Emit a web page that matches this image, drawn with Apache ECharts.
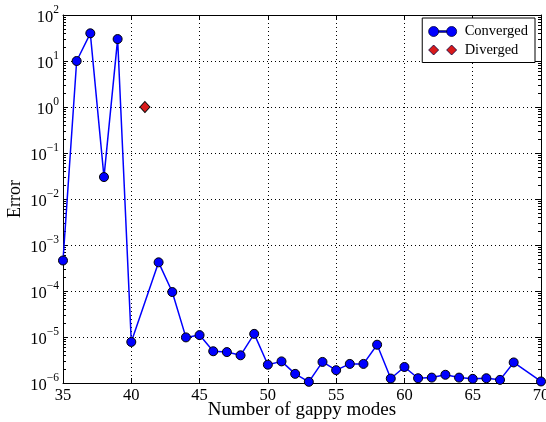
<!DOCTYPE html>
<html>
<head>
<meta charset="utf-8">
<script src="https://cdn.jsdelivr.net/npm/echarts@6/dist/echarts.min.js"></script>
<style>
  html, body { margin: 0; padding: 0; background: #fff; overflow: hidden; }
  #chart { width: 546px; height: 422px; }
</style>
</head>
<body>
<div id="chart"></div>
<script>
// Converged runs: number of gappy modes and the resulting error
const convergedModes = [35, 36, 37, 38, 39, 40, 42, 43, 44, 45, 46, 47, 48, 49, 50, 51, 52, 53, 54, 55,
                        56, 57, 58, 59, 60, 61, 62, 63, 64, 65, 66, 67, 68, 70];
const convergedError = [4.6e-4, 10, 40, 0.03, 30, 7.8e-6, 4.2e-4, 9.5e-5, 9.8e-6, 1.1e-5,
                        4.9e-6, 4.7e-6, 4.0e-6, 1.17e-5, 2.5e-6, 2.95e-6, 1.58e-6, 1.06e-6, 2.87e-6, 1.9e-6,
                        2.6e-6, 2.6e-6, 6.8e-6, 1.25e-6, 2.23e-6, 1.27e-6, 1.31e-6, 1.51e-6, 1.31e-6, 1.23e-6,
                        1.27e-6, 1.17e-6, 2.8e-6, 1.08e-6];
// Diverged runs
const divergedModes = [41];
const divergedError = [1.0];

// Axis ranges
const xMin = 35, xMax = 70, xStep = 5;
const yMin = 1e-6, yMax = 1e2;

const serif = 'Liberation Serif';

function pairs(xs, ys) { return xs.map((x, i) => [x, ys[i]]); }

function powLabel(v) {
  const e = Math.round(Math.log10(v));
  const exp = e < 0 ? '\u2212' + (-e) : String(e);
  return '{b|10}{s|' + exp + '}';
}

const dotted = { color: '#000', width: 1, type: [1, 3] };

const chart = echarts.init(document.getElementById('chart'), null, { renderer: 'canvas' });

chart.setOption({
  animation: false,
  backgroundColor: '#fff',
  textStyle: { fontFamily: serif, color: '#000' },
  grid: { left: 63, right: 5, top: 15, bottom: 39, containLabel: false, outerBoundsMode: 'none' },
  legend: {
    orient: 'vertical',
    right: 11,
    top: 18,
    padding: [6, 7, 5, 6],
    borderColor: '#000',
    borderWidth: 1,
    backgroundColor: '#fff',
    itemWidth: 28,
    itemHeight: 10,
    itemGap: 3.5,
    itemStyle: { borderWidth: 0.8, borderColor: '#000040', opacity: 1 },
    textStyle: { fontFamily: serif, fontSize: 14.5, color: '#000', padding: [0, 0, 0, 3] },
    data: [
      {
        name: 'Converged',
        icon: 'path://M0,5a5,5 0 1,0 10,0a5,5 0 1,0 -10,0Z M18,5a5,5 0 1,0 10,0a5,5 0 1,0 -10,0Z M10,4.2L18,4.2L18,5.8L10,5.8Z'
      },
      {
        name: 'Diverged',
        icon: 'path://M5,0L10,5L5,10L0,5Z M23,0L28,5L23,10L18,5Z'
      }
    ]
  },
  xAxis: [
    {
      type: 'value', min: xMin, max: xMax, interval: xStep,
      name: 'Number of gappy modes', nameLocation: 'middle', nameGap: 18, nameMoveOverlap: false,
      nameTextStyle: { fontFamily: serif, fontSize: 19, color: '#000', verticalAlign: 'top' },
      axisLine: { show: true, lineStyle: { color: '#000', width: 1 } },
      axisTick: { show: true, inside: true, length: 5, lineStyle: { color: '#000' } },
      axisLabel: { fontFamily: serif, fontSize: 16.5, color: '#000', margin: 4 },
      splitLine: { show: true, lineStyle: dotted }
    },
    {
      type: 'value', position: 'top', min: xMin, max: xMax, interval: xStep,
      axisLine: { show: true, lineStyle: { color: '#000', width: 1 } },
      axisTick: { show: true, inside: true, length: 5, lineStyle: { color: '#000' } },
      axisLabel: { show: false },
      splitLine: { show: false }
    }
  ],
  yAxis: [
    {
      type: 'log', logBase: 10, min: yMin, max: yMax,
      name: 'Error', nameLocation: 'middle', nameGap: 39, nameRotate: 90, nameMoveOverlap: false,
      nameTextStyle: { fontFamily: serif, fontSize: 18, color: '#000' },
      axisLine: { show: true, lineStyle: { color: '#000', width: 1 } },
      axisTick: { show: true, inside: true, length: 5, lineStyle: { color: '#000' } },
      minorTick: { show: true, splitNumber: 9, length: 3, lineStyle: { color: '#000' } },
      axisLabel: {
        margin: 4,
        formatter: powLabel,
        rich: {
          b: { fontFamily: serif, fontSize: 16.5, color: '#000', lineHeight: 22, verticalAlign: 'bottom' },
          s: { fontFamily: serif, fontSize: 11.5, color: '#000', lineHeight: 22, verticalAlign: 'top' }
        }
      },
      splitLine: { show: true, lineStyle: dotted },
      minorSplitLine: { show: false }
    },
    {
      type: 'log', logBase: 10, min: yMin, max: yMax, position: 'right',
      axisLine: { show: true, lineStyle: { color: '#000', width: 1 } },
      axisTick: { show: true, inside: true, length: 5, lineStyle: { color: '#000' } },
      minorTick: { show: true, splitNumber: 9, length: 3, lineStyle: { color: '#000' } },
      axisLabel: { show: false },
      splitLine: { show: false }
    }
  ],
  series: [
    {
      name: 'Converged',
      type: 'line',
      xAxisIndex: 0, yAxisIndex: 0,
      data: pairs(convergedModes, convergedError),
      symbol: 'circle',
      symbolSize: 9,
      showAllSymbol: true,
      clip: true,
      lineStyle: { color: '#0000ff', width: 1.5 },
      itemStyle: { color: '#0000ff', borderColor: '#000', borderWidth: 1, opacity: 1 },
      z: 3
    },
    {
      name: 'Diverged',
      type: 'scatter',
      xAxisIndex: 0, yAxisIndex: 0,
      data: pairs(divergedModes, divergedError),
      symbol: 'diamond',
      symbolSize: [10, 11],
      itemStyle: { color: '#d91a1a', borderColor: '#000', borderWidth: 1, opacity: 1 },
      z: 4
    }
  ]
});
</script>
</body>
</html>
